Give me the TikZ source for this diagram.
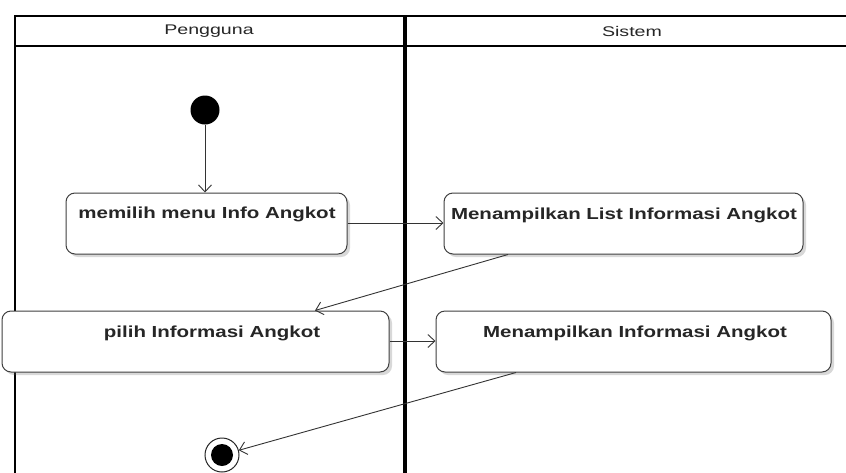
\documentclass[tikz,border=0pt]{standalone}
\usepackage{fontspec}
\setmainfont{Liberation Sans}
\usetikzlibrary{arrows.meta,shadows}
\begin{document}
\begin{tikzpicture}[x=1pt,y=-1pt,
  lane/.style={draw=black,line width=2.2pt},
  act/.style={draw=black!75,line width=1pt,rounded corners=9pt,fill=white,
    drop shadow={shadow xshift=3pt,shadow yshift=-3pt,opacity=0.25,fill=black!60}},
  acttext/.style={font=\bfseries\fontsize{16}{19}\selectfont,text=black!85,anchor=center,xscale=1.28},
  flow/.style={draw=black!80,line width=0.9pt,-{Straight Barb[length=7pt,width=13pt,line width=0.9pt]}},
  head/.style={font=\fontsize{14}{16}\selectfont,text=black!85,xscale=1.4}]
\useasboundingbox (0,0) rectangle (846,472);
\fill[white] (0,0) rectangle (846,472);
\begin{scope}
\clip (0,0) rectangle (846,472);
% swimlane frame
\draw[lane] (15,480) -- (15,16) -- (860,16);
\draw[lane,line width=1.6pt] (15,46) -- (860,46);
\draw[lane,line width=3.4pt] (405,16) -- (405,480);
\end{scope}
\node[head] (h1) at (209,31) {Pengguna};
\node[head] (h2) at (632,31) {Sistem};
% start and end
\node[circle,fill=black,minimum size=29pt,inner sep=0pt] (start) at (205,110) {};
\node[circle,draw=black!85,line width=1pt,fill=white,minimum size=34pt,inner sep=0pt] (endo) at (222,455) {};
\node[circle,fill=black,minimum size=22pt,inner sep=0pt] (endi) at (222,455) {};
% activities
\node[act,minimum width=281pt,minimum height=61pt] (a1) at (206.5,223.5) {};
\node[acttext] at (207,214) {memilih menu Info Angkot};
\node[act,minimum width=359pt,minimum height=61pt] (a2) at (623.5,223.5) {};
\node[acttext] at (624,215) {Menampilkan List Informasi Angkot};
\node[act,minimum width=387pt,minimum height=61pt] (a3) at (195.5,341.5) {};
\node[acttext] at (212,333) {pilih Informasi Angkot};
\node[act,minimum width=395pt,minimum height=61pt] (a4) at (633.5,341.5) {};
\node[acttext] at (635,333) {Menampilkan Informasi Angkot};
% control flow
\draw[flow] (start) -- (a1.north -| start);
\draw[flow] (a1.east |- 0,223) -- (a2.west |- 0,223);
\draw[flow] (a2.south -| 508,0) -- (a3.north -| 315,0);
\draw[flow] (a3.east |- 0,341) -- (a4.west |- 0,341);
\draw[flow] (a4.south -| 516,0) -- (endo);
\end{tikzpicture}
\end{document}
